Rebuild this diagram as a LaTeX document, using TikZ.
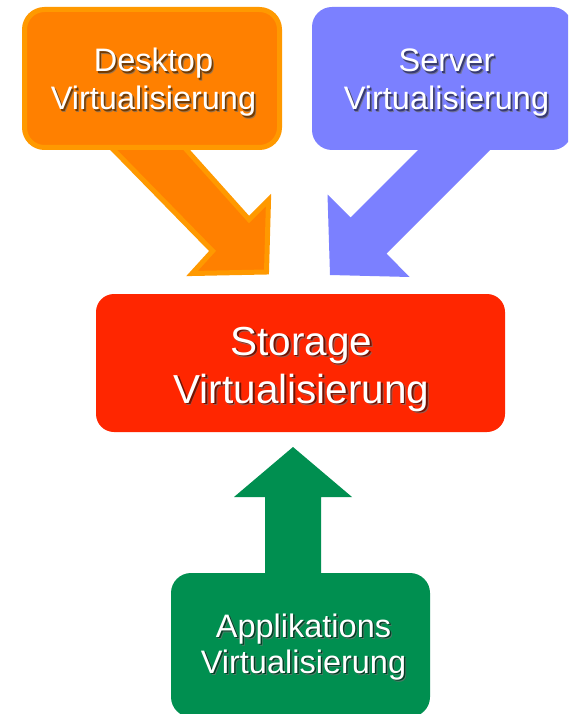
\documentclass[tikz,border=0pt]{standalone}
\usepackage{fontspec}
\setmainfont{Liberation Sans}

\definecolor{deskfill}{HTML}{FF8000}
\definecolor{deskline}{HTML}{FF9900}
\definecolor{servfill}{HTML}{7B80FF}
\definecolor{storfill}{HTML}{FF2600}
\definecolor{appfill}{HTML}{008F50}
\colorlet{deskshade}{black!55!deskfill}
\colorlet{servshade}{black!55!servfill}
\colorlet{storshade}{black!55!storfill}
\colorlet{appshade}{black!55!appfill}

\tikzset{
  panel/.style={rectangle, rounded corners=20pt, inner sep=0pt, draw=none},
  txt/.style={anchor=base, inner sep=0pt, text=white},
  smallfont/.style={font=\fontsize{32.5}{39}\selectfont},
  bigfont/.style={font=\fontsize{40.5}{48}\selectfont},
}

% white text with a soft drop shadow in the given colour, as one box
\newcommand\shadowed[2]{%
  \leavevmode
  \rlap{\kern2.3pt\raisebox{-2.3pt}{\color{#1!70!white}#2}}%
  \rlap{\kern1.5pt\raisebox{-1.5pt}{\color{#1}#2}}%
  #2}

\begin{document}
\begin{tikzpicture}[x=1pt,y=-1pt]
  \clip (0,0) rectangle (568,714);
  \fill[white] (0,0) rectangle (568,714);

  % box anchors
  \coordinate (deskc) at (152,78.5);
  \coordinate (servc) at (442,78.5);
  \coordinate (storc) at (300.5,363);
  \coordinate (appc) at (300.5,645);

  % orange block arrow (drawn behind its box)
  \filldraw[fill=deskfill, draw=deskline, line width=5pt, line join=miter]
    (102,138) -- (212.5,251) -- (192,273.5) -- (266.5,272) -- (268.5,200)
    -- (249,219.5) -- (176,138) -- cycle;
  \node[panel, fill=deskfill, draw=deskline, line width=5pt,
        minimum width=255pt, minimum height=138pt] (desk) at (deskc) {};

  % blue block arrow
  \fill[servfill]
    (500,140) -- (386.5,253.5) -- (409.5,277) -- (330,275) -- (327.5,194.5)
    -- (350.5,217.5) -- (428,140) -- cycle;
  \node[panel, fill=servfill, minimum width=260pt, minimum height=143pt]
    (serv) at (servc) {};

  % red centre box
  \node[panel, fill=storfill, rounded corners=18pt,
        minimum width=409pt, minimum height=138pt] (stor) at (storc) {};

  % green block arrow
  \fill[appfill] (293,447) -- (352,497) -- (321,497) -- (321,585)
    -- (265,585) -- (265,497) -- (234,497) -- cycle;
  \node[panel, fill=appfill, minimum width=259pt, minimum height=144pt]
    (app) at (appc) {};

  % labels
  \node[txt,smallfont] (deskA) at (153.5,72)  {\shadowed{deskshade}{Desktop}};
  \node[txt,smallfont] (deskB) at (153.5,110) {\shadowed{deskshade}{Virtualisierung}};
  \node[txt,smallfont] (servA) at (446.5,72)  {\shadowed{servshade}{Server}};
  \node[txt,smallfont] (servB) at (446.5,110) {\shadowed{servshade}{Virtualisierung}};
  \node[txt,bigfont]   (storA) at (301.5,355) {\shadowed{storshade}{Storage}};
  \node[txt,bigfont]   (storB) at (301.5,403) {\shadowed{storshade}{Virtualisierung}};
  \node[txt,smallfont] (appA)  at (303.5,637) {\shadowed{appshade}{Applikations}};
  \node[txt,smallfont] (appB)  at (303.5,673) {\shadowed{appshade}{Virtualisierung}};
\end{tikzpicture}
\end{document}
